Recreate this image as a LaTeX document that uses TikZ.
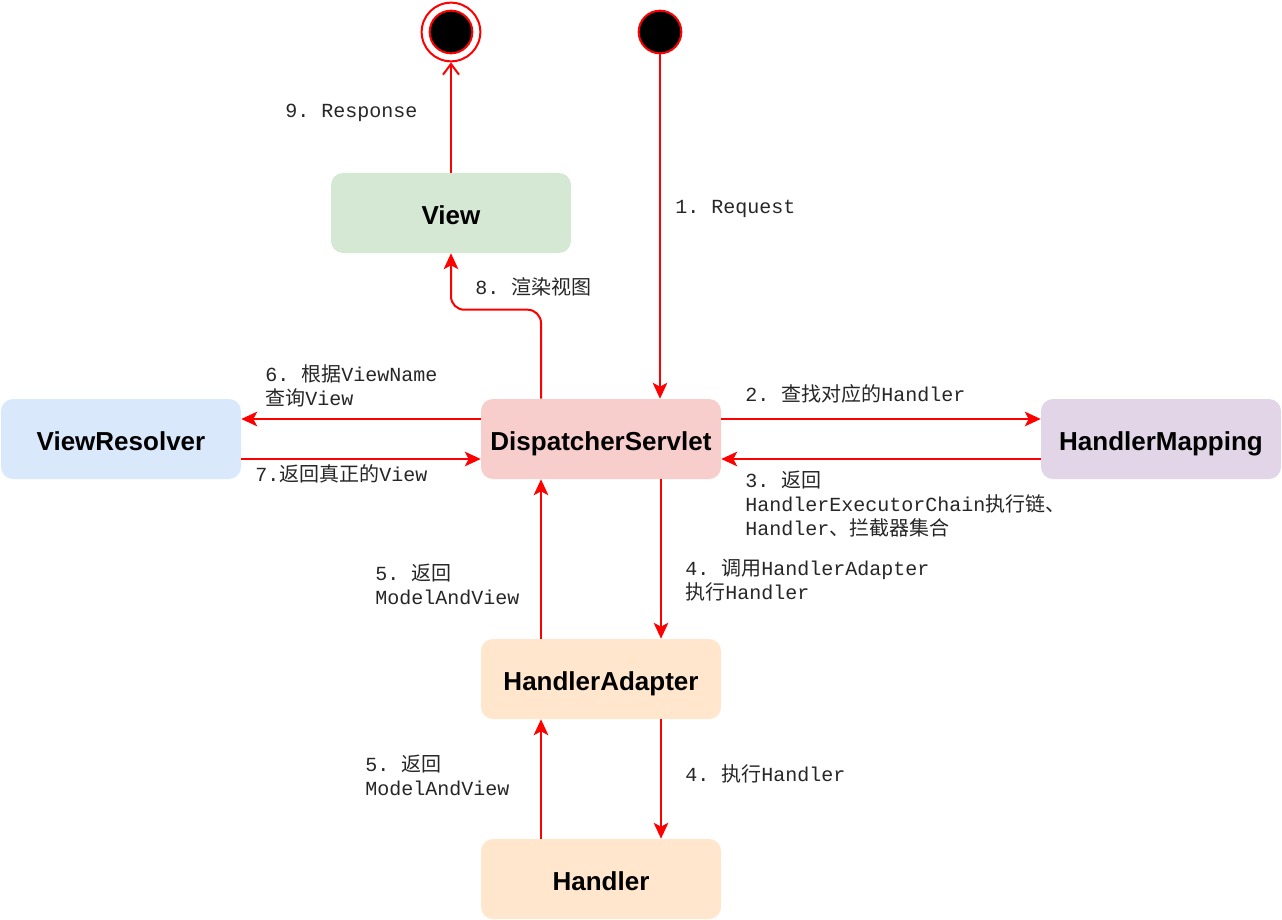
\documentclass[tikz,border=0pt]{standalone}
\usepackage{fontspec}
\setsansfont{Liberation Sans}
\setmonofont{Liberation Mono}
\newfontfamily\cjk{Noto Sans CJK SC}
\usetikzlibrary{arrows.meta,calc}
\newcommand{\zh}[1]{{\cjk #1}}
\definecolor{viewgreen}{HTML}{D5E8D4}
\definecolor{dsred}{HTML}{F8CECC}
\definecolor{vrblue}{HTML}{DAE8FC}
\definecolor{hmpurple}{HTML}{E1D5E7}
\definecolor{haorange}{HTML}{FFE6CC}
\tikzset{
  box/.style={rectangle, rounded corners=9pt, minimum width=180pt, minimum height=60pt,
    text height=17pt, text depth=0pt,
    font=\sffamily\bfseries\fontsize{19.5}{22}\selectfont, text=black},
  lbl/.style={font=\ttfamily\fontsize{15}{18}\selectfont, align=left, inner sep=0pt,
    anchor=west, text=black!85},
  arr/.style={draw=red, line width=1.5pt, -{Stealth[length=12pt,width=11pt,inset=3pt]}},
  openarr/.style={draw=red, line width=1.5pt, -{Straight Barb[length=8pt,width=12pt]}},
  dot/.style={circle, fill=black, draw=red, line width=1.5pt, minimum size=32pt, inner sep=0pt}
}
\begin{document}
\begin{tikzpicture}[x=0.75pt,y=-0.75pt]
  \useasboundingbox (0,0) rectangle (1282,920);
  % states
  \node[dot] (start) at (660,32) {};
  \node[circle, draw=red, line width=1.5pt, minimum size=44pt, inner sep=0pt] (endo) at (451,32) {};
  \node[dot] (endi) at (451,32) {};
  % boxes
  \node[box, fill=viewgreen] (view) at (451,213) {View};
  \node[box, fill=dsred] (ds) at (601,439) {DispatcherServlet};
  \node[box, fill=vrblue] (vr) at (121,439) {ViewResolver};
  \node[box, fill=hmpurple] (hm) at (1161,439) {HandlerMapping};
  \node[box, fill=haorange] (ha) at (601,679) {HandlerAdapter};
  \node[box, fill=haorange] (handler) at (601,879) {Handler};
  % connectors
  \draw[arr] (start) -- (start |- ds.north);
  \draw[openarr] (view) -- (endo);
  \draw[arr, rounded corners=10pt] ($(ds.north)+(-60,0)$) -- ++(0,-89) -| (view.south);
  \draw[arr] ($(ds.west)+(0,-20)$) -- ($(vr.east)+(0,-20)$);
  \draw[arr] ($(vr.east)+(0,20)$) -- ($(ds.west)+(0,20)$);
  \draw[arr] ($(ds.east)+(0,-20)$) -- ($(hm.west)+(0,-20)$);
  \draw[arr] ($(hm.west)+(0,20)$) -- ($(ds.east)+(0,20)$);
  \draw[arr] ($(ds.south)+(60,0)$) -- ($(ha.north)+(60,0)$);
  \draw[arr] ($(ha.north)+(-60,0)$) -- ($(ds.south)+(-60,0)$);
  \draw[arr] ($(ha.south)+(60,0)$) -- ($(handler.north)+(60,0)$);
  \draw[arr] ($(handler.north)+(-60,0)$) -- ($(ha.south)+(-60,0)$);
  % labels
  \node[lbl] (l9) at (285,113) {9. Response};
  \node[lbl] (l1) at (675,209) {1. Request};
  \node[lbl] (l8) at (475,287) {8. \zh{渲染视图}};
  \node[lbl] (l6) at (265,386) {6. \zh{根据}ViewName\\\zh{查询}View};
  \node[lbl] (l7) at (255,474) {7.\zh{返回真正的}View};
  \node[lbl] (l2) at (745,394) {2. \zh{查找对应的}Handler};
  \node[lbl] (l3) at (745,504) {3. \zh{返回}\\HandlerExecutorChain\zh{执行链、}\\Handler\zh{、拦截器集合}};
  \node[lbl] (l4a) at (685,580) {4. \zh{调用}HandlerAdapter\\\zh{执行}Handler};
  \node[lbl] (l5a) at (375,584) {5. \zh{返回}\\ModelAndView};
  \node[lbl] (l4b) at (685,774) {4. \zh{执行}Handler};
  \node[lbl] (l5b) at (365,775) {5. \zh{返回}\\ModelAndView};
\end{tikzpicture}
\end{document}
